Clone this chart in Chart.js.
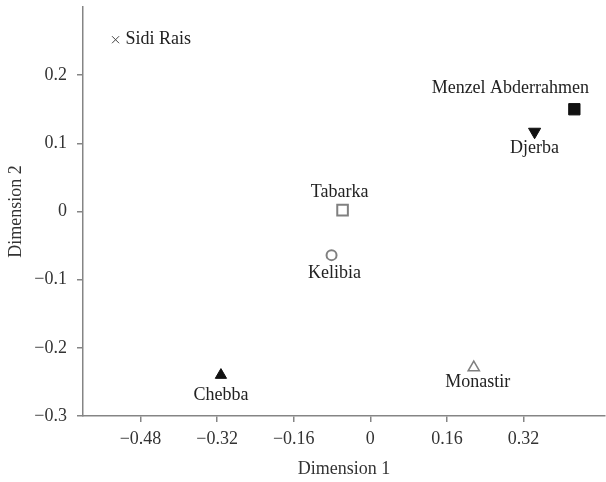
<!DOCTYPE html>
<html>
<head>
<meta charset="utf-8">
<script src="https://cdn.jsdelivr.net/npm/chart.js@4/dist/chart.umd.min.js"></script>
<style>
  html, body { margin: 0; padding: 0; background: #fff; }
  canvas { display: block; }
</style>
</head>
<body>
<canvas id="chart" width="606" height="482"></canvas>
<script>
const names = ["Sidi Rais", "Menzel Abderrahmen", "Djerba", "Tabarka", "Kelibia", "Chebba", "Monastir"];
const dim1 = [-0.532, 0.426, 0.343, -0.058, -0.081, -0.312, 0.216];
const dim2 = [0.252, 0.150, 0.117, 0.002, -0.064, -0.240, -0.229];
const xTicks = [-0.48, -0.32, -0.16, 0, 0.16, 0.32];
const yTicks = [-0.3, -0.2, -0.1, 0, 0.1, 0.2];

// marker look per site
const markers = [
  { style: "crossRot", r: 5, rot: 0, fill: "#444", line: "#444", w: 1 },
  { style: "rect", r: 8, rot: 0, fill: "#111", line: "#111", w: 1 },
  { style: "triangle", r: 7, rot: 180, fill: "#111", line: "#111", w: 1 },
  { style: "rect", r: 7.5, rot: 0, fill: "#fff", line: "#808080", w: 2 },
  { style: "circle", r: 5, rot: 0, fill: "#fff", line: "#808080", w: 2 },
  { style: "triangle", r: 6.5, rot: 0, fill: "#111", line: "#111", w: 1 },
  { style: "triangle", r: 6.5, rot: 0, fill: "#fff", line: "#808080", w: 1.5 }
];
// label placement relative to its marker
const labelPos = [
  { dx: 10, dy: 0, align: "left" },
  { dx: -64, dy: -21, align: "center" },
  { dx: 0, dy: 17, align: "center" },
  { dx: -3, dy: -18, align: "center" },
  { dx: 3, dy: 18, align: "center" },
  { dx: 0, dy: 20, align: "center" },
  { dx: 4, dy: 15, align: "center" }
];

const FONT = "'Liberation Serif', 'Times New Roman', serif";

function fmt(v) {
  if (v === 0) return "0";
  return v < 0 ? "\u2212" + String(Math.abs(v)) : String(v);
}

const pointLabels = {
  id: "pointLabels",
  afterDatasetsDraw(chart) {
    const { ctx } = chart;
    const meta = chart.getDatasetMeta(0);
    ctx.save();
    ctx.font = "18px " + FONT;
    ctx.fillStyle = "#222";
    ctx.textBaseline = "middle";
    meta.data.forEach((pt, i) => {
      const p = labelPos[i];
      ctx.textAlign = p.align;
      ctx.fillText(names[i], pt.x + p.dx, pt.y + p.dy);
    });
    ctx.restore();
  }
};

const axisGray = "#858585";

new Chart(document.getElementById("chart"), {
  type: "scatter",
  data: {
    datasets: [{
      data: dim1.map((x, i) => ({ x, y: dim2[i] })),
      pointStyle: markers.map(m => m.style),
      pointRadius: markers.map(m => m.r),
      pointHoverRadius: markers.map(m => m.r),
      rotation: markers.map(m => m.rot),
      backgroundColor: markers.map(m => m.fill),
      borderColor: markers.map(m => m.line),
      borderWidth: markers.map(m => m.w),
      clip: false
    }]
  },
  options: {
    responsive: false,
    animation: false,
    layout: { autoPadding: false, padding: { top: 7, right: 1, left: 0, bottom: 0 } },
    plugins: { legend: { display: false }, tooltip: { enabled: false } },
    scales: {
      x: {
        type: "linear",
        min: -0.6,
        max: 0.49,
        afterBuildTicks: s => { s.ticks = xTicks.map(v => ({ value: v })); },
        afterFit: s => { s.height = 66; s.paddingLeft = 0; s.paddingRight = 0; },
        ticks: { callback: v => fmt(v), color: "#333", font: { family: FONT, size: 18 }, padding: 6, maxRotation: 0 },
        grid: { drawOnChartArea: false, drawTicks: true, tickLength: 6, color: axisGray, lineWidth: 1.5 },
        border: { display: true, color: axisGray, width: 1.5 },
        title: { display: true, text: "Dimension 1", color: "#333", font: { family: FONT, size: 18 }, padding: { top: 0, bottom: 2 } }
      },
      y: {
        type: "linear",
        min: -0.3,
        max: 0.3,
        afterBuildTicks: s => { s.ticks = yTicks.map(v => ({ value: v })); },
        afterFit: s => { s.width = 83; s.paddingTop = 0; s.paddingBottom = 0; },
        ticks: { callback: v => fmt(v), color: "#333", font: { family: FONT, size: 18 }, padding: 10 },
        grid: { drawOnChartArea: false, drawTicks: true, tickLength: 6, color: axisGray, lineWidth: 1.5 },
        border: { display: true, color: axisGray, width: 1.5 },
        title: { display: true, text: "Dimension 2", color: "#333", font: { family: FONT, size: 18 }, padding: { top: 5, bottom: 0 } }
      }
    }
  },
  plugins: [pointLabels]
});
</script>
</body>
</html>
